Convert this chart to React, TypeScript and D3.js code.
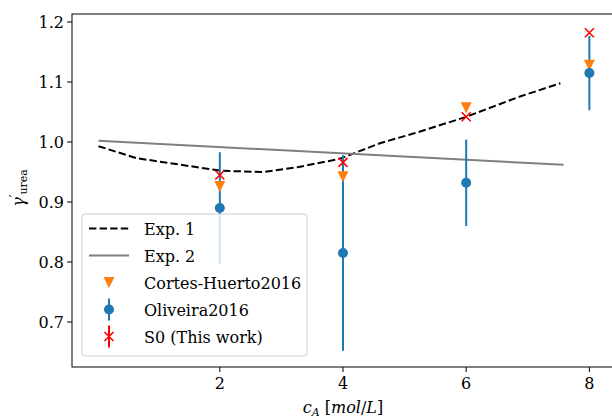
import React from "react";
import * as d3 from "d3";

// Exp. 1 (dashed)
const exp1C = [0.03, 0.65, 1.37, 2.02, 2.71, 3.26, 3.95, 4.6, 5.24, 6.0, 6.85, 7.53];
const exp1V = [0.993, 0.973, 0.962, 0.952, 0.95, 0.958, 0.972, 0.998, 1.017, 1.042, 1.075, 1.098];
// Exp. 2 (solid gray)
const exp2C = [0.03, 7.58];
const exp2V = [1.002, 0.962];
// Point series
const conc = [2, 4, 6, 8];
const cortesV = [0.926, 0.942, 1.057, 1.128];
const oliveiraV = [0.89, 0.815, 0.932, 1.115];
const oliveiraErr = [0.093, 0.163, 0.072, 0.062];
const s0V = [0.945, 0.966, 1.042, 1.182];
const xTicks = [2, 4, 6, 8];
const yTicks = [0.7, 0.8, 0.9, 1.0, 1.1, 1.2];
const legendLabels = ["Exp. 1", "Exp. 2", "Cortes-Huerto2016", "Oliveira2016", "S0 (This work)"];

const W = 612, H = 420;
const L = 72, R = 614, T = 14, B = 367;
const FONT = "'DejaVu Serif', serif";
const BLUE = "#1f77b4", ORANGE = "#ff7f0e", RED = "#ff0000", GRAY = "#808080";

export default function App() {
  const x = d3.scaleLinear().domain([-0.4, 8.4]).range([L, R]);
  const y = d3.scaleLinear().domain([0.625, 1.21333]).range([B, T]);
  const line = d3.line<[number, number]>().x(d => x(d[0])).y(d => y(d[1]));
  const exp1 = line(exp1C.map((c, i) => [c, exp1V[i]] as [number, number])) || "";
  const exp2 = line(exp2C.map((c, i) => [c, exp2V[i]] as [number, number])) || "";

  const tri = (cx: number, cy: number, s = 5.5) =>
    `M${cx - s},${cy - s}L${cx + s},${cy - s}L${cx},${cy + s}Z`;
  const xMark = (cx: number, cy: number, s = 4.5) =>
    `M${cx - s},${cy - s}L${cx + s},${cy + s}M${cx - s},${cy + s}L${cx + s},${cy - s}`;

  const lgX = 82, lgY = 214, lgW = 225, lgH = 142;
  const rowY = (i: number) => 228.5 + i * 27;
  const hx0 = 89, hx1 = 129, hc = 109, tx = 144;

  return (
    <svg width={W} height={H} style={{ position: "absolute", left: 0, top: 0, background: "#fff" }}>
      <rect x={0} y={0} width={W} height={H} fill="#fff" />
      <defs>
        <clipPath id="plot">
          <rect x={L} y={T} width={R - L} height={B - T} />
        </clipPath>
      </defs>
      <g clipPath="url(#plot)">
        <path d={exp1} fill="none" stroke="#000" strokeWidth={2} strokeDasharray="7.4,3.2" />
        <path d={exp2} fill="none" stroke={GRAY} strokeWidth={2} />
        {conc.map((c, i) => (
          <line key={"eb" + i} x1={x(c)} x2={x(c)} y1={y(oliveiraV[i] - oliveiraErr[i])} y2={y(oliveiraV[i] + oliveiraErr[i])}
            stroke={BLUE} strokeWidth={2} />
        ))}
        {conc.map((c, i) => (
          <path key={"tr" + i} d={tri(x(c), y(cortesV[i]))} fill={ORANGE} />
        ))}
        {conc.map((c, i) => (
          <circle key={"ci" + i} cx={x(c)} cy={y(oliveiraV[i])} r={5} fill={BLUE} />
        ))}
        {conc.map((c, i) => (
          <path key={"xm" + i} d={xMark(x(c), y(s0V[i]))} stroke={RED} strokeWidth={1.6} fill="none" />
        ))}
      </g>
      {/* legend */}
      <g fontFamily={FONT} fontSize={16} fill="#000">
        <rect x={lgX} y={lgY} width={lgW} height={lgH} rx={3} fill="#fff" fillOpacity={0.8} stroke="#cccccc" strokeWidth={1} />
        <line x1={hx0} x2={hx1} y1={rowY(0)} y2={rowY(0)} stroke="#000" strokeWidth={2} strokeDasharray="7.4,3.2" />
        <line x1={hx0} x2={hx1} y1={rowY(1)} y2={rowY(1)} stroke={GRAY} strokeWidth={2} />
        <path d={tri(hc, rowY(2))} fill={ORANGE} />
        <line x1={hc} x2={hc} y1={rowY(3) - 11} y2={rowY(3) + 11} stroke={BLUE} strokeWidth={2} />
        <circle cx={hc} cy={rowY(3)} r={5} fill={BLUE} />
        <line x1={hc} x2={hc} y1={rowY(4) - 11} y2={rowY(4) + 11} stroke={RED} strokeWidth={2} />
        <path d={xMark(hc, rowY(4))} stroke={RED} strokeWidth={1.6} fill="none" />
        {legendLabels.map((t, i) => (
          <text key={t} x={tx} y={rowY(i) + 6}>{t}</text>
        ))}
      </g>
      {/* frame */}
      <rect x={L} y={T} width={R - L} height={B - T} fill="none" stroke="#000" strokeWidth={1} />
      {/* axes */}
      <g fontFamily={FONT} fontSize={16} fill="#000">
        {yTicks.map(v => (
          <g key={"y" + v}>
            <line x1={L - 5} x2={L} y1={y(v)} y2={y(v)} stroke="#000" strokeWidth={1} />
            <text x={L - 8} y={y(v) + 6} textAnchor="end">{v.toFixed(1)}</text>
          </g>
        ))}
        {xTicks.map(v => (
          <g key={"x" + v}>
            <line x1={x(v)} x2={x(v)} y1={B} y2={B + 5} stroke="#000" strokeWidth={1} />
            <text x={x(v)} y={B + 22} textAnchor="middle">{v}</text>
          </g>
        ))}
        <text x={343} y={413} textAnchor="middle">
          <tspan fontStyle="italic">c</tspan>
          <tspan fontStyle="italic" fontSize={11} dy={3}>A</tspan>
          <tspan dy={-3}> [</tspan>
          <tspan fontStyle="italic">mol</tspan>
          <tspan>/</tspan>
          <tspan fontStyle="italic">L</tspan>
          <tspan>]</tspan>
        </text>
        <text transform="translate(24,188) rotate(-90)" textAnchor="middle">
          <tspan fontStyle="italic">γ</tspan>
          <tspan dy={-5} fontSize={12}>′</tspan>
          <tspan dy={8} fontSize={11}>urea</tspan>
        </text>
      </g>
    </svg>
  );
}
